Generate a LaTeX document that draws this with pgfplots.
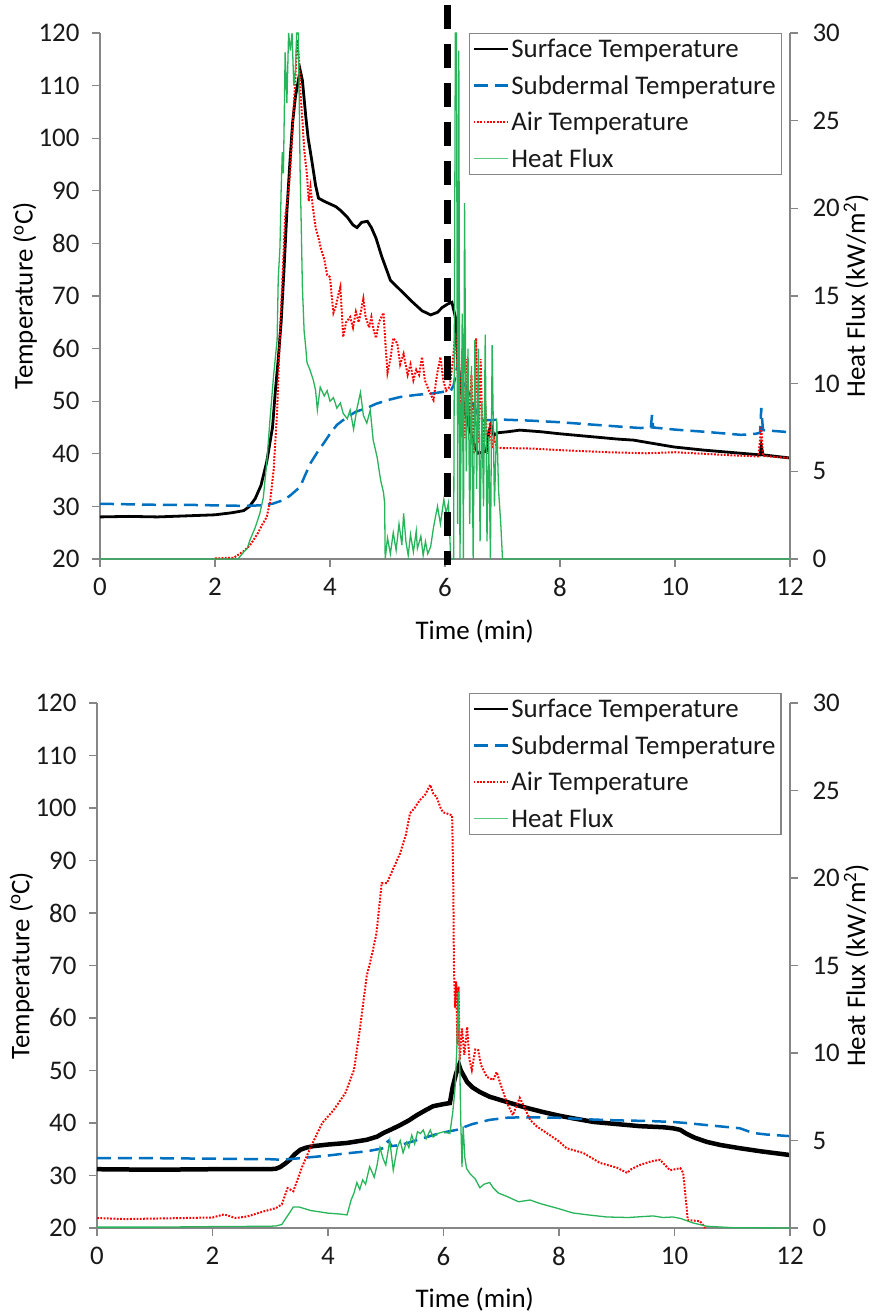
\documentclass[border=0pt]{standalone}
\usepackage{fontspec}
\setmainfont{Carlito}
\usepackage{pgfplots}
\pgfplotsset{compat=1.18}

\definecolor{axgray}{RGB}{134,134,134}
\definecolor{tblue}{RGB}{0,112,192}
\definecolor{tred}{RGB}{255,0,0}
\definecolor{tgreen}{RGB}{40,180,90}
\definecolor{lgreen}{RGB}{90,200,130}
\definecolor{txt}{RGB}{25,25,25}

\pgfplotsset{
  base/.style={
    scale only axis, xmin=0, xmax=12,
    axis line style={axgray, line width=1.2bp},
    every tick/.style={axgray, line width=1.2bp},
    major tick length=8bp,
    tick align=outside,
    font=\fontsize{27}{32}\selectfont,
    /pgf/number format/assume math mode=true,
    ticklabel style={text=txt},
    label style={text=txt},
    xticklabel style={yshift=-8bp},
    clip=false,
  },
  leftax/.style={base,
    axis x line*=bottom, axis y line*=left,
    ymin=20, ymax=120, ytick={20,30,...,120}, xtick={0,2,...,12},
    yticklabel style={xshift=-9bp},
    xlabel={Time (min)}, ylabel={Temperature (\textsuperscript{o}C)},
    every axis y label/.style={at={(axis description cs:-0.1087,0.5)}, rotate=90, anchor=center},
  },
  rightax/.style={base,
    axis x line=none, axis y line*=right,
    ymin=0, ymax=30, ytick={0,5,...,30},
    yticklabel style={xshift=11bp},
    ylabel={Heat Flux (kW/m\textsuperscript{2})},
    every axis y label/.style={at={(axis description cs:1.0957,0.5)}, rotate=90, anchor=center},
    legend style={draw=axgray, line width=1.2bp, font=\fontsize{27}{32}\selectfont,
      text=txt, cells={anchor=west}, inner sep=3bp, row sep=11.5bp,
      nodes={inner sep=2.5bp}},
    legend image code/.code={\draw[#1] (0bp,0bp) -- (34bp,0bp);},
  },
  surf/.style={black, line width=2.8bp},
  subd/.style={tblue, line width=2.5bp, dash pattern=on 14bp off 7bp},
  air/.style={tred, line width=2bp, dash pattern=on 1.8bp off 1.5bp},
  hf/.style={tgreen, line width=1.3bp},
}

\begin{document}
\begin{tikzpicture}
%================ TOP PANEL =================
\begin{axis}[leftax, width=690bp, height=526bp,
  every axis x label/.style={at={(axis description cs:0.543,-0.1388)}, anchor=center}]
\addplot[surf] coordinates {
(0,28.0) (0.5,28.1) (1,28.0) (1.5,28.2) (2,28.4) (2.3,28.8) (2.5,29.2) (2.6,30.0) (2.7,31.5) (2.8,34) (2.9,38.5) (3.0,45) (3.05,52) (3.1,58) (3.15,65) (3.2,75) (3.25,86) (3.3,95) (3.35,103) (3.4,108) (3.45,111) (3.48,113) (3.52,111) (3.58,104) (3.62,100) (3.68,96) (3.75,91) (3.8,88.6) (3.9,88) (4.0,87.5) (4.1,87) (4.18,86.3) (4.3,85) (4.4,83.5) (4.47,83) (4.55,84) (4.65,84.2) (4.72,83) (4.8,81) (4.9,77.5) (5.05,73) (5.17,71.7) (5.3,70.3) (5.4,69.2) (5.5,68.2) (5.6,67.2) (5.75,66.4) (5.87,66.9) (5.95,67.8) (6.05,68.5) (6.12,68.8) (6.18,66) (6.22,58) (6.28,52) (6.35,48) (6.42,45) (6.5,42) (6.57,40.1) (6.65,40.3) (6.72,40.5) (6.76,44) (6.8,45.5) (6.85,43.5) (6.92,44) (7.1,44.2) (7.3,44.5) (7.66,44.2) (8.0,43.8) (8.5,43.3) (9.0,42.8) (9.28,42.6) (9.6,42.0) (9.98,41.3) (10.5,40.7) (11.15,40.1) (11.48,39.8) (11.5,41.5) (11.53,39.8) (12,39.2)};
\addplot[subd] coordinates {
(0,30.5) (0.5,30.4) (1,30.3) (1.5,30.3) (2,30.2) (2.5,30.1) (2.8,30.2) (3.0,30.5) (3.19,31.2) (3.3,32) (3.48,33.7) (3.57,36) (3.66,38.2) (3.78,40.3) (3.89,42) (4.0,43.8) (4.12,45.5) (4.3,47) (4.45,48) (4.64,48.7) (4.8,49.5) (5.0,50.2) (5.22,50.8) (5.5,51.2) (5.8,51.5) (6.1,52) (6.15,53) (6.21,56.5) (6.25,55) (6.3,54) (6.4,52) (6.5,49) (6.6,47) (6.67,46.4) (6.79,46.4) (7.0,46.5) (7.5,46.3) (8,46) (8.5,45.6) (9,45.2) (9.4,44.9) (9.58,45) (9.6,47.4) (9.62,45) (10,44.6) (10.5,44.2) (11.15,43.6) (11.4,43.8) (11.48,44) (11.5,48.7) (11.53,44.5) (12,44.1)};
\addplot[air] coordinates {
(2.0,20.1) (2.2,20.2) (2.32,20.2) (2.5,21.5) (2.6,22.5) (2.67,23.6) (2.75,25) (2.82,26.5) (2.9,28) (2.96,31) (3.02,37) (3.08,48) (3.13,63) (3.18,75) (3.22,85) (3.27,89) (3.31,94) (3.34,100) (3.37,106) (3.4,112) (3.43,118.7) (3.46,115) (3.49,108) (3.52,103.5) (3.55,98) (3.57,95.9) (3.6,93) (3.63,88) (3.66,90.7) (3.7,87) (3.75,83) (3.8,81) (3.85,78.7) (3.9,77) (3.95,74) (4.0,73.6) (4.03,70) (4.06,66.8) (4.1,68) (4.14,70) (4.18,71.7) (4.23,62.2) (4.28,65) (4.35,66) (4.4,64) (4.45,67) (4.5,65) (4.58,69.5) (4.62,66) (4.68,64) (4.72,66) (4.76,63.5) (4.8,62) (4.85,65) (4.93,66.8) (4.97,60) (5.0,55.4) (5.05,58) (5.1,62) (5.17,61) (5.22,57) (5.28,59) (5.35,55) (5.4,57) (5.45,54) (5.5,56) (5.55,55) (5.6,58.4) (5.65,54) (5.72,52) (5.8,50.2) (5.86,55) (5.92,58.4) (5.97,54) (6.02,52) (6.08,52.7) (6.13,57) (6.18,63) (6.22,55) (6.26,48) (6.3,60) (6.34,43) (6.38,58) (6.42,45) (6.46,55) (6.5,40) (6.54,62) (6.58,42) (6.62,58) (6.66,38) (6.7,50) (6.74,40) (6.78,46) (6.82,41) (6.85,43) (6.9,41.2) (7.0,41.1) (7.5,41.0) (8,40.7) (8.83,40.3) (9.5,40.1) (10,40.3) (10.5,40) (11,39.7) (11.45,39.5) (11.5,45) (11.53,39.6) (12,39.2)};
\end{axis}
\begin{axis}[rightax, width=690bp, height=526bp,
  legend style={at={(0.988,1.0)}, anchor=north east}]
\addlegendimage{black, line width=1.5bp}
\addlegendentry{Surface Temperature}
\addlegendimage{tblue, line width=2.5bp, dash pattern=on 14bp off 7bp}
\addlegendentry{Subdermal Temperature}
\addlegendimage{tred, line width=1.5bp, dash pattern=on 1.8bp off 1.5bp}
\addlegendentry{Air Temperature}
\addlegendimage{lgreen, line width=1.3bp}
\addlegendentry{Heat Flux}
\addplot[hf, forget plot] coordinates {
(0,0) (2.4,0) (2.5,0.4) (2.56,0.6) (2.61,1.1) (2.7,1.8) (2.78,2.6) (2.84,3.5) (2.9,5.5) (2.96,8.1) (3.02,10.5) (3.08,12.5) (3.1,16) (3.13,17.8) (3.15,21) (3.17,23.2) (3.19,22) (3.22,28.9) (3.25,26) (3.28,30) (3.31,29) (3.34,30) (3.37,27) (3.4,27.9) (3.42,30) (3.45,30) (3.48,22.2) (3.5,19) (3.52,15.5) (3.55,13) (3.58,12) (3.6,11.2) (3.65,10.8) (3.71,10.2) (3.75,9.6) (3.78,8.5) (3.83,9.8) (3.9,9.3) (3.95,9.6) (4.0,9.0) (4.06,9.2) (4.12,8.6) (4.18,8.9) (4.23,8.3) (4.3,8.0) (4.35,8.5) (4.41,7.4) (4.47,8.6) (4.53,9.5) (4.58,8.2) (4.64,7.75) (4.7,8.5) (4.75,6.8) (4.82,5.8) (4.88,4.5) (4.93,3.8) (4.95,3.2) (4.96,0) (5.0,1.2) (5.05,0.3) (5.1,1.5) (5.15,0.5) (5.2,2.0) (5.25,0.8) (5.28,2.6) (5.32,1.0) (5.36,0.2) (5.4,1.4) (5.45,0.4) (5.5,1.6) (5.52,0.6) (5.58,1.3) (5.62,0.2) (5.66,1.0) (5.7,0.3) (5.75,0.7) (5.8,1.8) (5.84,2.5) (5.87,3.0) (5.92,2.0) (5.98,3.4) (6.02,2.6) (6.06,3.2) (6.1,0) (6.15,0) (6.18,30) (6.2,30) (6.22,2) (6.24,29) (6.26,0) (6.3,14) (6.32,0) (6.34,20.3) (6.37,5) (6.4,12) (6.43,2) (6.46,11) (6.49,0) (6.52,12.5) (6.55,4) (6.58,12) (6.61,1) (6.64,9) (6.67,3) (6.7,12.8) (6.73,1) (6.76,7) (6.79,0) (6.82,12.2) (6.86,3) (6.9,8) (6.93,4) (6.97,2) (7.0,0) (12,0)};
\addplot[black, line width=7bp, dash pattern=on 24bp off 15bp, forget plot] coordinates {(6.05,31.6) (6.05,-0.34)};
\end{axis}
%================ BOTTOM PANEL =================
\begin{axis}[leftax, at={(-3bp,-669bp)}, width=693bp, height=525bp,
  every axis x label/.style={at={(axis description cs:0.545,-0.137)}, anchor=center}]
\addplot[surf, line width=4.5bp] coordinates {
(0,31.2) (1,31.1) (2,31.2) (3,31.2) (3.1,31.3) (3.17,31.6) (3.25,32.2) (3.34,33) (3.42,34) (3.52,34.9) (3.62,35.3) (3.75,35.6) (4.0,35.9) (4.33,36.2) (4.67,36.8) (4.85,37.4) (4.96,38.1) (5.1,38.8) (5.25,39.6) (5.4,40.5) (5.54,41.5) (5.7,42.5) (5.82,43.2) (6.0,43.6) (6.11,43.8) (6.16,46.9) (6.22,49.5) (6.27,51) (6.3,50) (6.35,49) (6.41,47.8) (6.5,46.8) (6.63,45.9) (6.8,45) (7.1,44) (7.4,43) (7.72,42.1) (8.0,41.4) (8.24,40.9) (8.6,40.2) (9.0,39.8) (9.4,39.4) (9.8,39.2) (9.97,39) (10.1,38.7) (10.2,38) (10.35,37.2) (10.56,36.4) (10.8,35.8) (11.13,35.2) (11.5,34.6) (12,33.9)};
\addplot[subd] coordinates {
(0,33.3) (1,33.3) (2,33.2) (3,33.1) (3.2,33.0) (3.52,33.3) (4.0,33.8) (4.3,34.2) (4.67,34.6) (4.96,35.2) (5.0,36.2) (5.05,36.6) (5.1,35.6) (5.25,35.8) (5.5,36.6) (5.82,37.7) (6.0,38.2) (6.23,38.7) (6.5,39.8) (6.8,40.6) (7.1,41.0) (7.38,41.1) (8.0,41.0) (8.5,40.7) (9.0,40.5) (9.5,40.4) (9.97,40.2) (10.2,40.0) (10.56,39.6) (11.13,39.0) (11.36,38.1) (11.6,37.8) (12,37.5)};
\addplot[air] coordinates {
(0,21.9) (0.5,21.7) (1,21.8) (1.5,21.9) (2.0,22.0) (2.2,22.6) (2.4,21.9) (2.6,22.2) (2.9,23.2) (3.1,23.8) (3.2,24.5) (3.3,27.6) (3.4,27.0) (3.55,31.6) (3.7,35.4) (3.9,40) (4.1,42.5) (4.3,45.7) (4.45,50.1) (4.55,57.7) (4.67,68) (4.76,72) (4.84,76.2) (4.93,85.7) (5.02,85.7) (5.12,88.2) (5.25,91.4) (5.35,95) (5.42,99) (5.5,100) (5.59,101.5) (5.68,102.5) (5.77,104.4) (5.82,102.8) (5.88,102.1) (5.95,100) (5.99,99.2) (6.1,98.8) (6.15,98.6) (6.17,85) (6.18,70) (6.2,62) (6.22,67) (6.24,55) (6.26,66) (6.28,52) (6.32,58) (6.36,53) (6.41,58.3) (6.45,52) (6.49,50.1) (6.55,54) (6.6,53.9) (6.65,51) (6.75,48.8) (6.86,48.2) (6.92,49.7) (7.0,47) (7.1,43.8) (7.2,41.5) (7.32,44.8) (7.4,43) (7.5,40.6) (7.62,39.3) (7.84,37.7) (8.0,36.5) (8.13,35.2) (8.42,34.3) (8.71,32.4) (9.0,31.5) (9.18,30.5) (9.25,31.2) (9.4,32) (9.6,32.7) (9.75,33) (9.92,31) (10.1,31.4) (10.15,30.5) (10.2,25) (10.23,21.5) (10.44,21.3) (10.5,20.5) (10.53,20)};
\end{axis}
\begin{axis}[rightax, at={(-3bp,-669bp)}, width=693bp, height=525bp,
  legend style={at={(0.988,1.019)}, anchor=north east}]
\addlegendimage{black, line width=1.5bp}
\addlegendentry{Surface Temperature}
\addlegendimage{tblue, line width=2.5bp, dash pattern=on 14bp off 7bp}
\addlegendentry{Subdermal Temperature}
\addlegendimage{tred, line width=1.5bp, dash pattern=on 1.8bp off 1.5bp}
\addlegendentry{Air Temperature}
\addlegendimage{lgreen, line width=1.3bp}
\addlegendentry{Heat Flux}
\addplot[hf, forget plot] coordinates {
(0,0.05) (1,0.05) (2,0.08) (3,0.1) (3.1,0.12) (3.2,0.2) (3.3,0.7) (3.4,1.2) (3.5,1.2) (3.7,1.0) (4.0,0.85) (4.2,0.8) (4.33,0.75) (4.4,1.6) (4.45,2.0) (4.5,2.6) (4.55,2.2) (4.6,2.75) (4.65,2.5) (4.72,3.5) (4.75,3.3) (4.8,2.9) (4.85,3.6) (4.9,4.6) (4.95,4.0) (5.0,3.6) (5.07,5.0) (5.13,3.3) (5.2,4.6) (5.25,5.0) (5.3,4.3) (5.36,4.9) (5.4,4.6) (5.45,5.3) (5.5,4.8) (5.55,5.5) (5.6,5.4) (5.65,5.6) (5.7,5.1) (5.77,5.6) (5.82,5.2) (5.9,5.4) (6.0,5.5) (6.11,5.4) (6.16,6.6) (6.2,8) (6.23,10.2) (6.26,13.5) (6.28,9.6) (6.3,6) (6.32,3.5) (6.34,5.8) (6.37,4) (6.4,3.4) (6.46,3.1) (6.55,2.8) (6.63,2.3) (6.7,2.5) (6.8,2.6) (6.86,2.3) (6.95,2.0) (7.1,1.8) (7.3,1.5) (7.5,1.6) (7.67,1.4) (8.0,1.1) (8.24,0.86) (8.5,0.75) (8.83,0.63) (9.2,0.6) (9.63,0.69) (9.8,0.6) (9.97,0.63) (10.1,0.55) (10.32,0.29) (10.56,0.1) (11,0.02) (12,0)};
\end{axis}
\pgfresetboundingbox
\useasboundingbox (-100bp,-756bp) rectangle (780bp,559bp);
\end{tikzpicture}
\end{document}
